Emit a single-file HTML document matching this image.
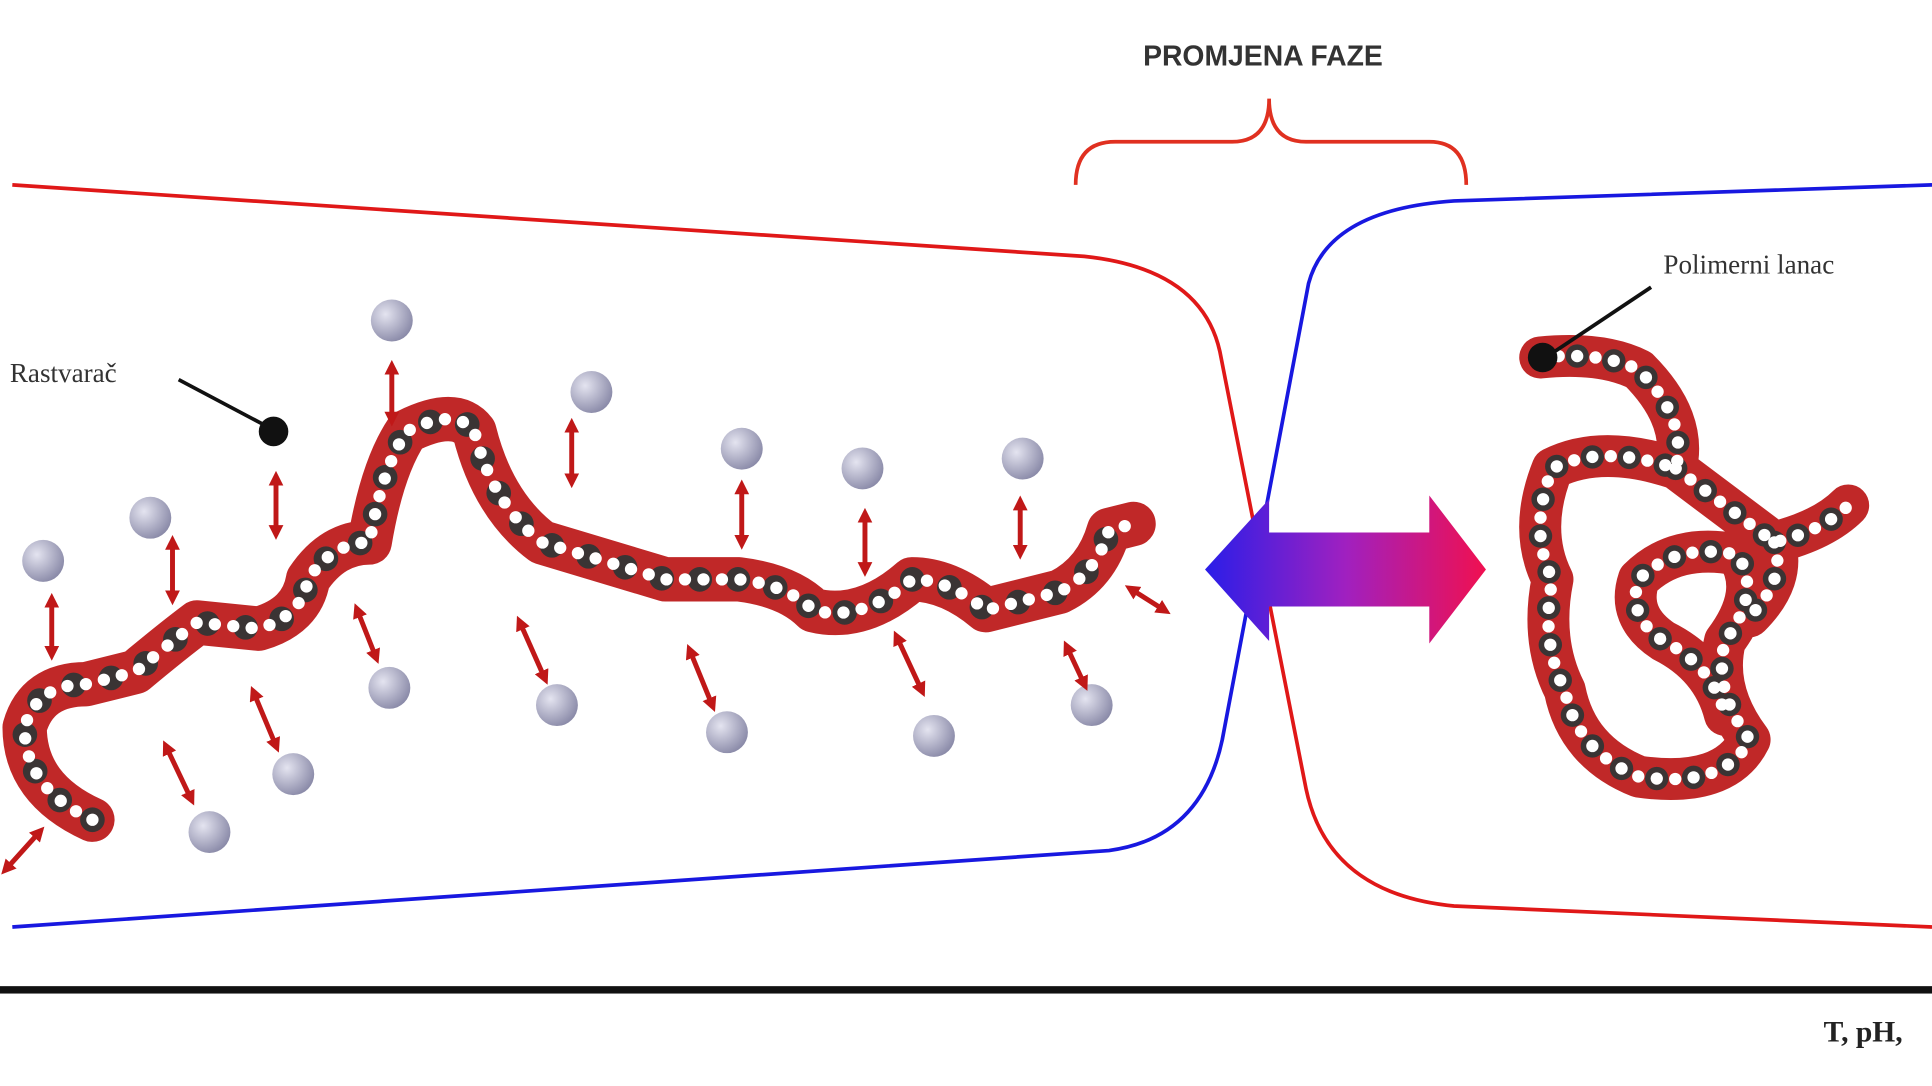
<!DOCTYPE html>
<html><head><meta charset="utf-8"><style>html,body{margin:0;padding:0;background:#fff;width:1932px;height:1086px;overflow:hidden}</style></head>
<body>
<svg width="1932" height="1086" viewBox="0 0 1568 881" preserveAspectRatio="none" xmlns="http://www.w3.org/2000/svg">
<defs>
<linearGradient id="g" x1="0" x2="1"><stop offset="0" stop-color="#2a1ee8"/><stop offset="0.5" stop-color="#a020c0"/><stop offset="1" stop-color="#f01050"/></linearGradient>
<radialGradient id="s" cx="0.35" cy="0.35" r="0.7"><stop offset="0" stop-color="#e4e4f0"/><stop offset="1" stop-color="#8a8aa8"/></radialGradient>
<marker id="a" viewBox="0 0 10 10" refX="5" refY="5" markerWidth="3" markerHeight="3" orient="auto-start-reverse"><path d="M0,0 L10,5 L0,10z" fill="#c01818"/></marker>
</defs>
<text x="1025" y="53" text-anchor="middle" font-family="Liberation Sans, sans-serif" font-weight="bold" font-size="23" fill="#333">PROMJENA FAZE</text>
<path d="M873,150 Q873,115 905,115 L1000,115 Q1030,115 1030,80 Q1030,115 1060,115 L1160,115 Q1190,115 1190,150" fill="none" stroke="#e03020" stroke-width="3"/>
<path d="M10,150 L880,208 Q975,218 990,285 L1060,640 Q1078,725 1180,735 L1568,752" fill="none" stroke="#e01818" stroke-width="3"/>
<path d="M10,752 L900,690 Q975,680 992,600 L1062,230 Q1078,170 1180,163 L1568,150" fill="none" stroke="#1818e0" stroke-width="3"/>
<rect x="0" y="800" width="1568" height="6" fill="#111"/>
<text x="1480" y="845" font-family="Liberation Serif, serif" font-weight="bold" font-size="24" fill="#222">T, pH,</text>
<path d="M978,462 L1030,405 L1030,432 L1160,432 L1160,402 L1206,462 L1160,522 L1160,492 L1030,492 L1030,520 Z" fill="url(#g)"/>
<g fill="none" stroke-linecap="round" stroke-linejoin="round">
<path d="M75,665 Q20,640 20,590 Q30,555 70,555 L110,545 Q140,520 160,505 L210,510 Q245,500 250,470 Q270,440 300,440 Q310,380 330,350 Q370,330 385,350 Q400,410 440,440 L540,470 L600,470 Q640,475 660,495 Q700,505 740,470 Q770,470 800,495 L860,480 Q890,465 900,430 L920,425" stroke="#c02828" stroke-width="36"/>
<path d="M75,665 Q20,640 20,590 Q30,555 70,555 L110,545 Q140,520 160,505 L210,510 Q245,500 250,470 Q270,440 300,440 Q310,380 330,350 Q370,330 385,350 Q400,410 440,440 L540,470 L600,470 Q640,475 660,495 Q700,505 740,470 Q770,470 800,495 L860,480 Q890,465 900,430 L920,425" stroke="#3a3434" stroke-width="20" stroke-dasharray="0 31"/>
<path d="M75,665 Q20,640 20,590 Q30,555 70,555 L110,545 Q140,520 160,505 L210,510 Q245,500 250,470 Q270,440 300,440 Q310,380 330,350 Q370,330 385,350 Q400,410 440,440 L540,470 L600,470 Q640,475 660,495 Q700,505 740,470 Q770,470 800,495 L860,480 Q890,465 900,430 L920,425" stroke="#fff" stroke-width="10" stroke-dasharray="0 15"/>
<path d="M1250,290 Q1300,285 1330,300 Q1370,340 1360,380 Q1300,360 1260,380 Q1240,430 1260,470 Q1250,520 1270,560 Q1280,610 1330,630 Q1400,640 1420,600 Q1390,560 1400,520 Q1430,480 1410,450 Q1360,440 1330,470 Q1320,500 1350,520 Q1390,540 1400,580 M1360,380 Q1400,410 1440,440 Q1480,430 1500,410 M1440,440 Q1450,470 1420,500" stroke="#c02828" stroke-width="34"/>
<path d="M1250,290 Q1300,285 1330,300 Q1370,340 1360,380 Q1300,360 1260,380 Q1240,430 1260,470 Q1250,520 1270,560 Q1280,610 1330,630 Q1400,640 1420,600 Q1390,560 1400,520 Q1430,480 1410,450 Q1360,440 1330,470 Q1320,500 1350,520 Q1390,540 1400,580 M1360,380 Q1400,410 1440,440 Q1480,430 1500,410 M1440,440 Q1450,470 1420,500" stroke="#3a3434" stroke-width="19" stroke-dasharray="0 30"/>
<path d="M1250,290 Q1300,285 1330,300 Q1370,340 1360,380 Q1300,360 1260,380 Q1240,430 1260,470 Q1250,520 1270,560 Q1280,610 1330,630 Q1400,640 1420,600 Q1390,560 1400,520 Q1430,480 1410,450 Q1360,440 1330,470 Q1320,500 1350,520 Q1390,540 1400,580 M1360,380 Q1400,410 1440,440 Q1480,430 1500,410 M1440,440 Q1450,470 1420,500" stroke="#fff" stroke-width="10" stroke-dasharray="0 15"/>
</g>
<g fill="url(#s)">
<circle cx="318" cy="260" r="17"/><circle cx="480" cy="318" r="17"/><circle cx="602" cy="364" r="17"/><circle cx="700" cy="380" r="17"/><circle cx="830" cy="372" r="17"/><circle cx="122" cy="420" r="17"/><circle cx="35" cy="455" r="17"/><circle cx="316" cy="558" r="17"/><circle cx="452" cy="572" r="17"/><circle cx="590" cy="594" r="17"/><circle cx="758" cy="597" r="17"/><circle cx="886" cy="572" r="17"/><circle cx="238" cy="628" r="17"/><circle cx="170" cy="675" r="17"/>
</g>
<g stroke="#c01818" stroke-width="4" marker-start="url(#a)" marker-end="url(#a)">
<line x1="318" y1="298" x2="318" y2="340"/><line x1="464" y1="345" x2="464" y2="390"/><line x1="602" y1="395" x2="602" y2="440"/><line x1="702" y1="418" x2="702" y2="462"/><line x1="828" y1="408" x2="828" y2="448"/><line x1="224" y1="388" x2="224" y2="432"/><line x1="140" y1="440" x2="140" y2="485"/><line x1="42" y1="487" x2="42" y2="530"/><line x1="290" y1="495" x2="305" y2="533"/><line x1="422" y1="505" x2="442" y2="550"/><line x1="560" y1="528" x2="578" y2="572"/><line x1="728" y1="517" x2="748" y2="560"/><line x1="866" y1="525" x2="880" y2="555"/><line x1="918" y1="478" x2="945" y2="495"/><line x1="206" y1="562" x2="224" y2="605"/><line x1="135" y1="606" x2="155" y2="648"/><line x1="32" y1="675" x2="5" y2="705"/>
</g>
<text x="8" y="310" font-family="Liberation Serif, serif" font-size="22" fill="#333">Rastvarač</text>
<line x1="145" y1="308" x2="215" y2="345" stroke="#111" stroke-width="3"/>
<circle cx="222" cy="350" r="12" fill="#111"/>
<text x="1350" y="222" font-family="Liberation Serif, serif" font-size="22" fill="#333">Polimerni lanac</text>
<line x1="1340" y1="233" x2="1262" y2="285" stroke="#111" stroke-width="3"/>
<circle cx="1252" cy="290" r="12" fill="#111"/>
</svg>
</body></html>
